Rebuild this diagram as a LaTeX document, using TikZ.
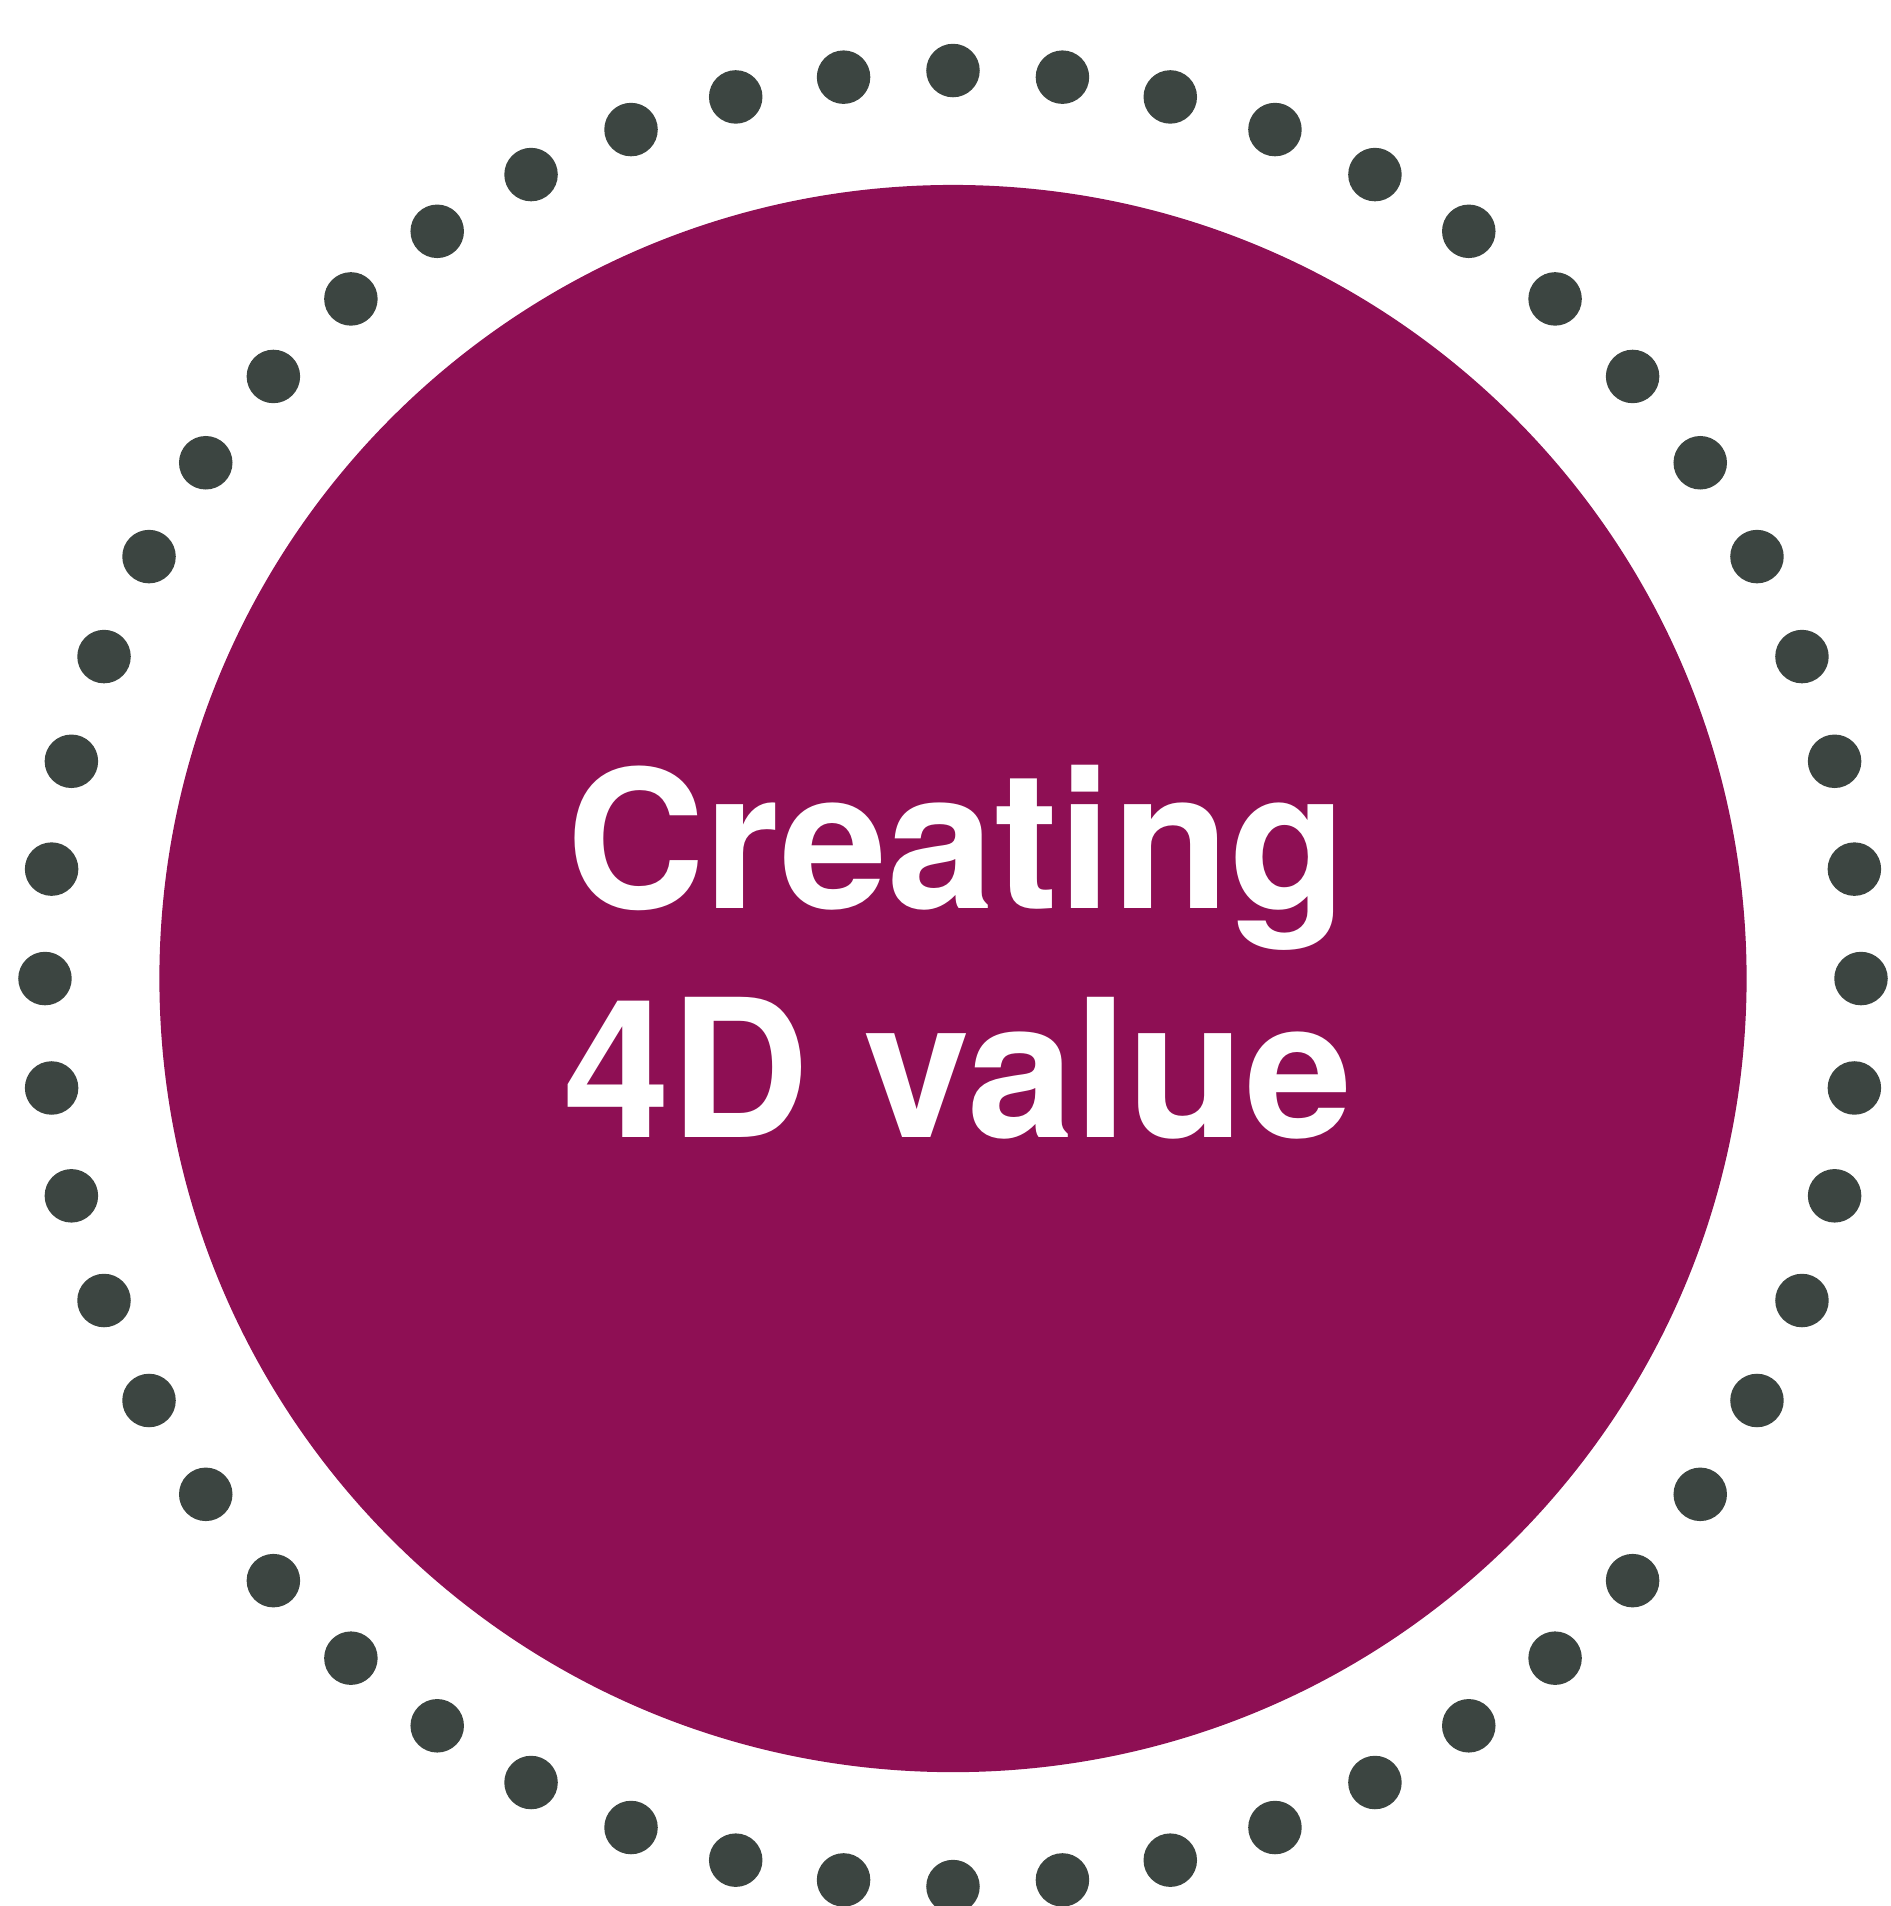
\documentclass[tikz,border=0pt]{standalone}
\usepackage{fontspec}
\setmainfont{TeX Gyre Heros}
\usetikzlibrary{positioning}
\definecolor{plum}{HTML}{8E0F54}
\definecolor{slate}{HTML}{3C4541}
\tikzstyle{core} = [circle, fill=plum, draw=none, minimum size=13.05cm, inner sep=0pt]
\tikzstyle{bead} = [circle, fill=slate, draw=none, minimum size=0.44cm, inner sep=0pt]
\tikzstyle{heading} = [text=white, font=\fontsize{45}{54}\selectfont\bfseries, anchor=base, inner sep=0pt]

\begin{document}
\begin{tikzpicture}[x=0.01cm, y=-0.01cm]
\useasboundingbox (0,0) rectangle (1555,1568);

\node (hub) [core] at (784,805) {};

% ring of dots
\foreach \i in {0,...,51}
  \node (bead\i) [bead] at ({784+747*cos(90+\i*6.923077)},{805-747*sin(90+\i*6.923077)}) {};

\node (line1) [heading] at (787,747) {Creating};
\node (line2) [heading] at (788,936) {4D value};
\end{tikzpicture}
\end{document}
